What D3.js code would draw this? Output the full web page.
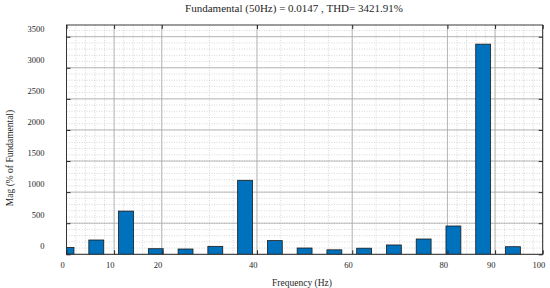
<!DOCTYPE html>
<html lang="en">
<head>
    <meta charset="utf-8">
    <title>Harmonic spectrum</title>
    <script src="https://d3js.org/d3.v7.min.js"></script>
    <style>
        body { margin: 0; background: #fff; }
        text { font-family: "Liberation Serif", "DejaVu Serif", serif; fill: #262626; }
    </style>
</head>
<body>

<div id="chart"></div>

<script>

// harmonic bins (Hz) and magnitudes (% of fundamental)
var freqs = [0, 6.25, 12.5, 18.75, 25, 31.25, 37.5, 43.75, 50, 56.25, 62.5, 68.75, 75, 81.25, 87.5, 93.75];
var mags  = [110, 230, 695, 90, 85, 128, 1190, 220, 101, 72, 98, 150, 246, 455, 3380, 122];

var xTicks = [0, 10, 20, 40, 60, 80, 90, 100];
var yTicks = [0, 500, 1000, 1500, 2000, 2500, 3000, 3500];

var titleText = "Fundamental (50Hz) = 0.0147 , THD= 3421.91%";

var W = 550, H = 288;
var margin = {top: 25, right: 7.3, bottom: 33.7, left: 66.5};
var width = W - margin.left - margin.right,
    height = H - margin.top - margin.bottom;

var svg = d3.select("#chart")
  .append("svg")
    .attr("width", W)
    .attr("height", H);

var g = svg.append("g")
    .attr("transform", "translate(" + margin.left + "," + margin.top + ")");

var x = d3.scaleLinear().domain([0, 100]).range([0, width]);
var y = d3.scaleLinear().domain([0, 3688]).range([height, 0]);

// minor grid: 2 Hz steps at the ends, 5 Hz in the middle
var xMinor = d3.range(0, 20, 2).concat(d3.range(20, 80, 5)).concat(d3.range(80, 101, 2));
var yMinor = d3.range(0, 3700, 100);

g.append("g").selectAll("line")
    .data(xMinor)
    .enter().append("line")
      .attr("x1", function(d){ return x(d) }).attr("x2", function(d){ return x(d) })
      .attr("y1", 0).attr("y2", height)
      .attr("stroke", "#bdbdbd")
      .attr("stroke-width", 0.6)
      .attr("stroke-dasharray", "1,1.5");

g.append("g").selectAll("line")
    .data(yMinor)
    .enter().append("line")
      .attr("x1", 0).attr("x2", width)
      .attr("y1", function(d){ return y(d) }).attr("y2", function(d){ return y(d) })
      .attr("stroke", "#bdbdbd")
      .attr("stroke-width", 0.6)
      .attr("stroke-dasharray", "1,1.5");

// major grid
g.append("g").selectAll("line")
    .data(xTicks)
    .enter().append("line")
      .attr("x1", function(d){ return x(d) }).attr("x2", function(d){ return x(d) })
      .attr("y1", 0).attr("y2", height)
      .attr("stroke", "#a8a8a8")
      .attr("stroke-width", 0.8);

g.append("g").selectAll("line")
    .data(yTicks)
    .enter().append("line")
      .attr("x1", 0).attr("x2", width)
      .attr("y1", function(d){ return y(d) }).attr("y2", function(d){ return y(d) })
      .attr("stroke", "#a8a8a8")
      .attr("stroke-width", 0.8);

// bars, clipped to the axes box
g.append("clipPath").attr("id", "plotclip")
  .append("rect").attr("width", width).attr("height", height);

var barW = x(6.25 * 0.5) - x(0);

g.append("g")
    .attr("clip-path", "url(#plotclip)")
  .selectAll("rect")
    .data(freqs)
    .enter().append("rect")
      .attr("x", function(d){ return x(d) - barW / 2 })
      .attr("y", function(d, i){ return y(mags[i]) })
      .attr("width", barW)
      .attr("height", function(d, i){ return height - y(mags[i]) })
      .attr("fill", "#0072BD")
      .attr("stroke", "#1a1a1a")
      .attr("stroke-width", 0.8);

// box + inward ticks on all four sides
g.append("rect")
    .attr("width", width).attr("height", height)
    .attr("fill", "none")
    .attr("stroke", "#262626")
    .attr("stroke-width", 0.9);

var xAxis = g.append("g")
    .attr("transform", "translate(0," + height + ")")
    .call(d3.axisBottom(x).tickValues(xTicks).tickSizeInner(-4).tickSizeOuter(0).tickPadding(8));
xAxis.select(".domain").remove();
xAxis.selectAll("line").attr("stroke", "#262626");
xAxis.selectAll("text")
    .attr("dx", -4.3)
    .style("font-size", "8.5px")
    .style("font-family", "Liberation Serif, serif");

var xTop = g.append("g")
    .call(d3.axisTop(x).tickValues(xTicks).tickSizeInner(-4).tickSizeOuter(0).tickFormat(""));
xTop.select(".domain").remove();
xTop.selectAll("line").attr("stroke", "#262626");

var yAxis = g.append("g")
    .call(d3.axisLeft(y).tickValues(yTicks).tickFormat(d3.format("d"))
        .tickSizeInner(-4).tickSizeOuter(0).tickPadding(22));
yAxis.select(".domain").remove();
yAxis.selectAll("line").attr("stroke", "#262626");
yAxis.selectAll("text")
    .attr("dy", "-0.3em")
    .attr("y", -3)
    .style("font-size", "8.5px")
    .style("font-family", "Liberation Serif, serif");

var yRight = g.append("g")
    .attr("transform", "translate(" + width + ",0)")
    .call(d3.axisRight(y).tickValues(yTicks).tickSizeInner(-4).tickSizeOuter(0).tickFormat(""));
yRight.select(".domain").remove();
yRight.selectAll("line").attr("stroke", "#262626");

// labels
svg.append("text")
    .attr("x", 294)
    .attr("y", 12)
    .attr("text-anchor", "middle")
    .style("font-size", "11px")
    .text(titleText);

svg.append("text")
    .attr("x", 302)
    .attr("y", 286)
    .attr("text-anchor", "middle")
    .style("font-size", "9.5px")
    .text("Frequency (Hz)");

svg.append("text")
    .attr("transform", "translate(13," + 158 + ")rotate(-90)")
    .attr("text-anchor", "middle")
    .style("font-size", "9.5px")
    .text("Mag (% of Fundamental)");

</script>
</body>
</html>
